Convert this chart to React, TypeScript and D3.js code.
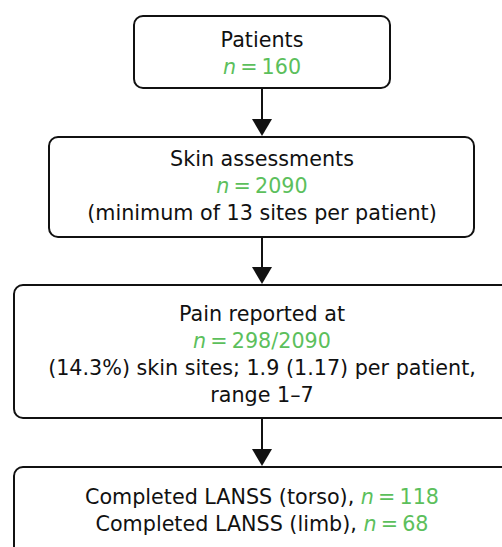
import React, { useEffect, useRef } from "react";
import * as d3 from "d3";

type Seg = { t: string; green?: boolean; italic?: boolean };

const boxTitles: Seg[][][] = [
  [
    [{ t: "Patients" }],
    [{ t: "n", green: true, italic: true }, { t: "\u2009=\u2009160", green: true }],
  ],
  [
    [{ t: "Skin assessments" }],
    [{ t: "n", green: true, italic: true }, { t: "\u2009=\u20092090", green: true }],
    [{ t: "(minimum of 13 sites per patient)" }],
  ],
  [
    [{ t: "Pain reported at" }],
    [{ t: "n", green: true, italic: true }, { t: "\u2009=\u2009298/2090", green: true }],
    [{ t: "(14.3%) skin sites; 1.9 (1.17) per patient," }],
    [{ t: "range 1\u20137" }],
  ],
  [
    [{ t: "Completed LANSS (torso), " }, { t: "n", green: true, italic: true }, { t: "\u2009=\u2009118", green: true }],
    [{ t: "Completed LANSS (limb), " }, { t: "n", green: true, italic: true }, { t: "\u2009=\u200968", green: true }],
  ],
];

// box geometry
const boxLeft = [134, 49, 14, 14];
const boxTop = [16, 137, 285, 467];
const boxRight = [390, 474, 510, 510];
const boxBottom = [88, 237, 418, 600];
const firstBaseline = [46.5, 165.5, 321, 503.5];

const GREEN = "#5cbf5c";
const LINE_H = 27;

export default function App() {
  const ref = useRef<SVGSVGElement | null>(null);
  useEffect(() => {
    const svg = d3.select(ref.current);
    svg.selectAll("*").remove();
    const cx = 262;
    const g = svg.append("g");

    boxTitles.forEach((lines, i) => {
      g.append("rect")
        .attr("x", boxLeft[i])
        .attr("y", boxTop[i])
        .attr("width", boxRight[i] - boxLeft[i])
        .attr("height", boxBottom[i] - boxTop[i])
        .attr("rx", 9)
        .attr("fill", "white")
        .attr("stroke", "#111")
        .attr("stroke-width", 2);
      lines.forEach((segs, j) => {
        const txt = g
          .append("text")
          .attr("x", cx)
          .attr("y", firstBaseline[i] + j * LINE_H)
          .attr("text-anchor", "middle")
          .attr("font-family", "'DejaVu Sans', sans-serif")
          .attr("font-size", 20.7)
          .attr("fill", "#111");
        segs.forEach((s) => {
          txt
            .append("tspan")
            .text(s.t)
            .attr("fill", s.green ? GREEN : "#111")
            .attr("font-style", s.italic ? "italic" : "normal");
        });
      });
      if (i < boxTitles.length - 1) {
        const y0 = boxBottom[i];
        const y1 = boxTop[i + 1];
        const head = 17;
        g.append("line")
          .attr("x1", cx)
          .attr("x2", cx)
          .attr("y1", y0)
          .attr("y2", y1 - head)
          .attr("stroke", "#111")
          .attr("stroke-width", 2);
        const path = d3.path();
        path.moveTo(cx - 10, y1 - head - 1);
        path.lineTo(cx + 10, y1 - head - 1);
        path.lineTo(cx, y1 - 1);
        path.closePath();
        g.append("path").attr("d", path.toString()).attr("fill", "#111");
      }
    });
  }, []);
  return (
    <svg
      ref={ref}
      width={502}
      height={547}
      style={{ position: "absolute", left: 0, top: 0, background: "white" }}
    />
  );
}
